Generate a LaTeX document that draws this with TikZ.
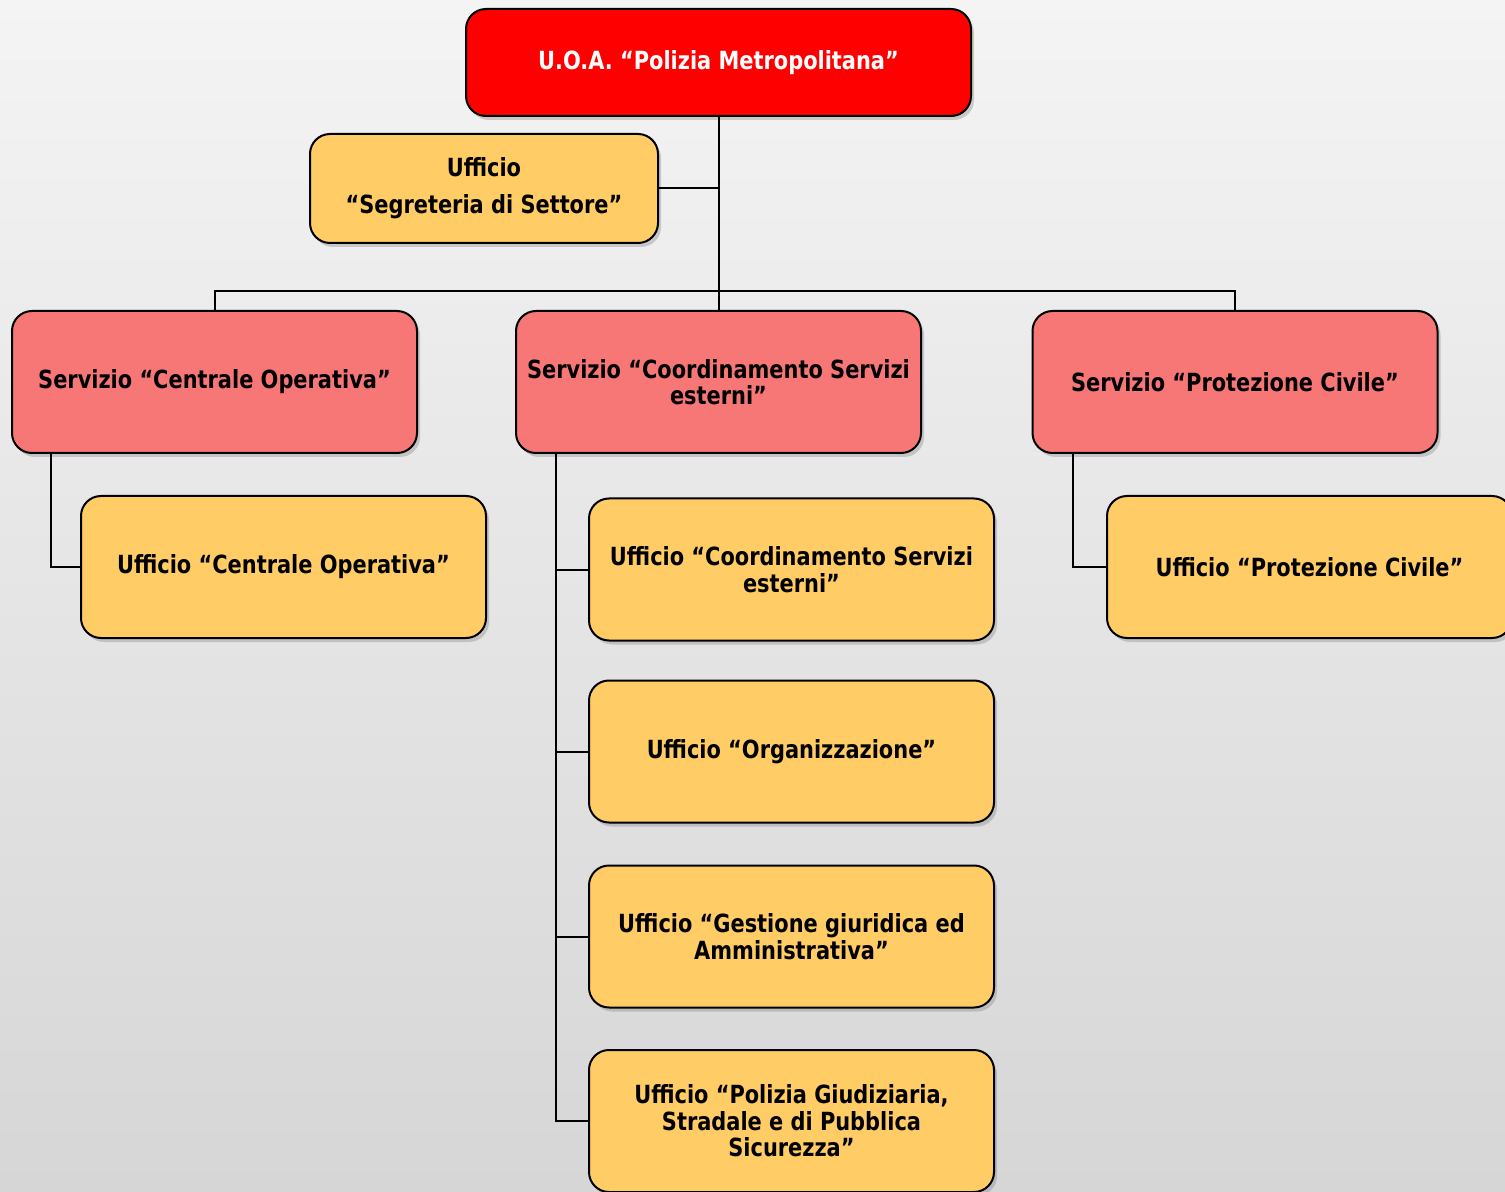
\documentclass[tikz,border=0pt]{standalone}
\usepackage{fontspec}
\setmainfont{DejaVu Sans Condensed}[FakeStretch=0.93]
\usetikzlibrary{shadows,calc}
\definecolor{bgtop}{HTML}{F4F4F4}
\definecolor{bgbot}{HTML}{D6D6D6}
\definecolor{topred}{HTML}{FF0000}
\definecolor{servred}{HTML}{F77777}
\definecolor{uffyel}{HTML}{FFCC66}
\tikzset{
  box/.style={draw=black, line width=1pt, rounded corners=10pt, align=center,
    font=\bfseries\fontsize{12.5}{13.2}\selectfont, inner sep=0pt,
    drop shadow={opacity=0.35, shadow xshift=1.5pt, shadow yshift=-2pt}},
  topbox/.style={box, fill=topred, text=white, minimum width=252.5pt, minimum height=53.5pt},
  servbox/.style={box, fill=servred, minimum width=202.5pt, minimum height=71pt},
  uffbox/.style={box, fill=uffyel, minimum width=202.5pt, minimum height=71pt},
  conn/.style={draw=black, line width=1pt}
}
\begin{document}
\begin{tikzpicture}[x=0.5pt, y=-0.5pt]
\shade[top color=bgtop, bottom color=bgbot] (0,0) rectangle (1505,1192);
\useasboundingbox (0,0) rectangle (1505,1192);
\clip (0,0) rectangle (1505,1192);
% nodes
\node[topbox] (top) at (718.5,62.5) {U.O.A. “Polizia Metropolitana”};
\node[box, fill=uffyel, minimum width=174pt, minimum height=54.5pt,
  font=\bfseries\fontsize{12.5}{18.5}\selectfont] (segr) at (484,188.5) {Ufficio\\“Segreteria di Settore”};
\node[servbox] (s1) at (214.5,382) {Servizio “Centrale Operativa”};
\node[servbox] (s2) at (718.5,382) {Servizio “Coordinamento Servizi\\esterni”};
\node[servbox] (s3) at (1235,382) {Servizio “Protezione Civile”};
\node[uffbox] (u1) at (283.5,567) {Ufficio “Centrale Operativa”};
\node[uffbox] (u3) at (1309.5,567) {Ufficio “Protezione Civile”};
\node[uffbox] (m1) at (791.5,569.5) {Ufficio “Coordinamento Servizi\\esterni”};
\node[uffbox] (m2) at (791.5,751.5) {Ufficio “Organizzazione”};
\node[uffbox] (m3) at (791.5,936.5) {Ufficio “Gestione giuridica ed\\Amministrativa”};
\node[uffbox] (m4) at (791.5,1121) {Ufficio “Polizia Giudiziaria,\\Stradale e di Pubblica\\Sicurezza”};
% connectors
\coordinate (bus) at (718.5,291);
\draw[conn] (top.south) -- (bus);
\draw[conn] (segr.east) -- (segr.east -| top.south);
\draw[conn] (s1.north) |- (bus) -| (s3.north);
\draw[conn] (bus) -- (s2.north);
\coordinate (lsp) at ($(s1.south west)+(40,0)$);
\coordinate (msp) at ($(s2.south west)+(41,0)$);
\coordinate (rsp) at ($(s3.south west)+(41,0)$);
\draw[conn] (lsp) |- (u1.west);
\draw[conn] (rsp) |- (u3.west);
\draw[conn] (msp) |- (m1.west);
\draw[conn] (msp) |- (m2.west);
\draw[conn] (msp) |- (m3.west);
\draw[conn] (msp) |- (m4.west);
\end{tikzpicture}
\end{document}
